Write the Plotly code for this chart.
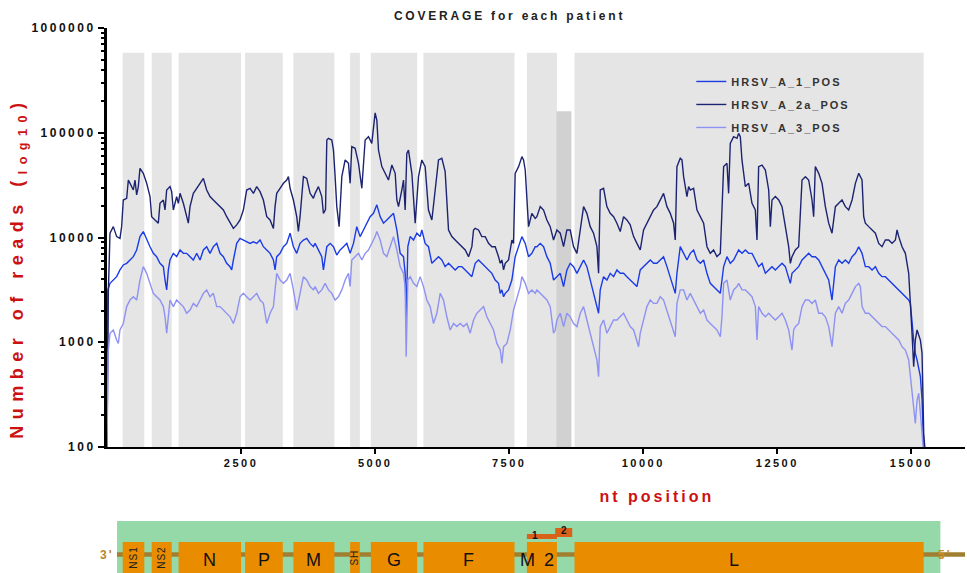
import plotly.graph_objects as go

# ---------------- data ----------------
series_names = ["HRSV_A_1_POS", "HRSV_A_2a_POS", "HRSV_A_3_POS"]

pos_2a = [0, 25, 56, 118, 180, 242, 273, 304, 367, 398,
          429, 491, 522, 553, 584, 615, 677, 740, 802, 833,
          895, 957, 988, 1051, 1082, 1113, 1175, 1206, 1237, 1299,
          1330, 1362, 1424, 1486, 1517, 1548, 1610, 1673, 1735, 1797,
          1859, 1921, 1983, 2046, 2108, 2170, 2232, 2294, 2357, 2419,
          2481, 2543, 2605, 2668, 2730, 2792, 2854, 2916, 2979, 3041,
          3103, 3134, 3165, 3227, 3290, 3352, 3383, 3414, 3476, 3538,
          3569, 3600, 3663, 3725, 3787, 3849, 3881, 3943, 4005, 4036,
          4075, 4099, 4130, 4192, 4223, 4254, 4285, 4329, 4379, 4441,
          4503, 4534, 4565, 4627, 4690, 4752, 4783, 4814, 4876, 4938,
          5000, 5032, 5063, 5125, 5187, 5249, 5312, 5374, 5405, 5436,
          5498, 5529, 5560, 5591, 5622, 5685, 5747, 5809, 5871, 5933,
          5995, 6058, 6120, 6182, 6244, 6306, 6369, 6431, 6493, 6555,
          6617, 6680, 6742, 6804, 6835, 6866, 6928, 6990, 7053, 7115,
          7177, 7239, 7301, 7333, 7364, 7395, 7426, 7488, 7550, 7581,
          7612, 7675, 7737, 7768, 7799, 7861, 7923, 7985, 8016, 8079,
          8141, 8203, 8265, 8327, 8390, 8452, 8514, 8576, 8638, 8700,
          8763, 8825, 8887, 8949, 9011, 9073, 9136, 9167, 9198, 9260,
          9322, 9384, 9447, 9509, 9571, 9633, 9695, 9757, 9820, 9882,
          9944, 10006, 10068, 10131, 10193, 10255, 10317, 10379, 10442, 10504,
          10566, 10597, 10628, 10690, 10722, 10753, 10815, 10846, 10877, 10939,
          11002, 11064, 11126, 11188, 11250, 11312, 11374, 11437, 11468, 11499,
          11561, 11592, 11623, 11685, 11748, 11779, 11810, 11841, 11904, 11966,
          12028, 12090, 12121, 12152, 12215, 12277, 12339, 12370, 12401, 12463,
          12526, 12588, 12650, 12712, 12743, 12774, 12836, 12898, 12961, 13023,
          13085, 13147, 13178, 13209, 13272, 13334, 13396, 13458, 13520, 13583,
          13645, 13707, 13769, 13831, 13894, 13956, 14018, 14080, 14111, 14142,
          14204, 14267, 14329, 14391, 14453, 14515, 14577, 14640, 14702, 14733,
          14764, 14826, 14888, 14950, 14981, 15012, 15043, 15074, 15106, 15168,
          15199, 15230, 15250]
reads_2a = [100, 3000, 11000, 12700, 10200, 9800, 12700, 22800, 23700, 35400,
            32900, 28400, 35400, 25500, 30600, 45800, 41000, 32900, 24600, 15800,
            14700, 13700, 21200, 22800, 18300, 28400, 30600, 27400, 18300, 24600,
            21200, 26400, 21200, 16400, 13700, 19700, 26400, 29500, 32900, 36700,
            28400, 24600, 22800, 21200, 19700, 18300, 15800, 13700, 12200, 13200,
            14700, 18300, 28400, 29500, 26400, 30600, 27400, 22800, 15800, 14700,
            12200, 19700, 26400, 29500, 32900, 35400, 38100, 29500, 22800, 15800,
            11400, 15800, 38100, 36700, 26400, 23700, 26400, 30600, 24600, 17000,
            18500, 85200, 88500, 85200, 68400, 38100, 19700, 12700, 38100, 55000,
            51100, 32900, 73600, 71000, 51100, 29500, 55000, 85200, 91800, 79200,
            155000, 132000, 68400, 47500, 41000, 35400, 49200, 41000, 22800, 19700,
            28400, 35400, 18300, 63600, 68400, 41000, 13700, 38100, 55000, 47500,
            18300, 14700, 28400, 55000, 57000, 42500, 11800, 10200, 9460, 8790,
            8170, 7600, 6560, 8170, 11800, 12200, 11800, 10200, 10200, 8790,
            8170, 8170, 6560, 5670, 6100, 4900, 5670, 6100, 9460, 8790,
            41000, 47500, 59100, 55000, 44100, 12700, 17000, 15200, 15800, 19700,
            18300, 14700, 12700, 9460, 11800, 11000, 8170, 11800, 11800, 8170,
            7060, 11800, 19700, 17000, 12700, 11000, 8170, 4550, 28400, 29500,
            19700, 17000, 15800, 13700, 11400, 15800, 14700, 13200, 10200, 8790,
            7600, 11800, 13700, 15800, 18300, 19700, 22800, 26400, 19700, 17000,
            13700, 9460, 47500, 57000, 55000, 38100, 24600, 30600, 28400, 29500,
            18300, 15800, 13700, 8170, 7060, 7600, 6560, 7060, 22800, 47500,
            51100, 26400, 79200, 91800, 88500, 98700, 91800, 55000, 30600, 32900,
            21200, 18300, 9460, 47500, 49200, 44100, 28400, 12700, 22800, 24600,
            22800, 19700, 12700, 8170, 5670, 6560, 7600, 8170, 35400, 38100,
            35400, 22800, 15800, 47500, 41000, 32900, 19700, 13700, 11000, 19700,
            21200, 22800, 19700, 18300, 22800, 32900, 41000, 35400, 15800, 13700,
            12700, 11800, 11000, 8790, 8170, 9460, 9460, 8790, 9460, 11800,
            10200, 8170, 7060, 4550, 2530, 1220, 585, 1050, 1310, 1050,
            783, 135, 100]

pos_1 = [0, 15, 56, 118, 180, 242, 304, 367, 429, 491,
         553, 615, 677, 740, 802, 864, 926, 988, 1051, 1082,
         1113, 1144, 1175, 1237, 1299, 1362, 1424, 1486, 1548, 1610,
         1673, 1735, 1797, 1859, 1921, 1983, 2046, 2108, 2170, 2232,
         2294, 2325, 2357, 2419, 2481, 2543, 2605, 2668, 2730, 2792,
         2854, 2916, 2979, 3041, 3103, 3134, 3165, 3227, 3290, 3352,
         3414, 3476, 3538, 3600, 3663, 3725, 3787, 3849, 3881, 3943,
         4005, 4036, 4099, 4161, 4223, 4285, 4348, 4410, 4472, 4534,
         4596, 4658, 4720, 4783, 4845, 4907, 4969, 5032, 5094, 5156,
         5218, 5280, 5343, 5405, 5467, 5529, 5560, 5579, 5610, 5653,
         5716, 5778, 5840, 5871, 5933, 5995, 6058, 6120, 6182, 6244,
         6306, 6369, 6431, 6493, 6555, 6617, 6680, 6742, 6804, 6866,
         6928, 6990, 7053, 7115, 7177, 7239, 7301, 7333, 7364, 7395,
         7426, 7488, 7550, 7612, 7675, 7737, 7799, 7861, 7923, 7985,
         8016, 8079, 8141, 8203, 8265, 8327, 8390, 8452, 8514, 8576,
         8638, 8700, 8763, 8825, 8887, 8949, 9011, 9073, 9136, 9167,
         9198, 9260, 9322, 9384, 9447, 9509, 9571, 9633, 9695, 9757,
         9820, 9882, 9944, 10006, 10068, 10131, 10193, 10255, 10317, 10379,
         10442, 10504, 10566, 10597, 10628, 10690, 10753, 10815, 10877, 10939,
         11002, 11064, 11126, 11188, 11250, 11312, 11374, 11437, 11468, 11499,
         11561, 11623, 11685, 11748, 11779, 11841, 11904, 11966, 12028, 12090,
         12152, 12215, 12277, 12339, 12401, 12463, 12526, 12588, 12650, 12712,
         12743, 12774, 12836, 12898, 12961, 13023, 13085, 13147, 13209, 13272,
         13334, 13396, 13458, 13520, 13551, 13583, 13645, 13707, 13769, 13831,
         13894, 13956, 14018, 14080, 14142, 14204, 14267, 14329, 14391, 14453,
         14515, 14577, 14640, 14702, 14764, 14826, 14888, 14950, 14981, 15012,
         15043, 15074, 15106, 15168, 15199, 15230]
reads_1 = [100, 3160, 3650, 3930, 4230, 4900, 5470, 5670, 6100, 6560,
           7600, 10200, 11400, 9460, 8170, 7060, 6560, 5670, 5270, 3930,
           3160, 4900, 6100, 7060, 6560, 7600, 7060, 7060, 6560, 6100,
           7060, 6100, 7600, 8170, 7060, 8170, 8790, 7060, 6560, 5670,
           5270, 4900, 6100, 8790, 9800, 9460, 9100, 8790, 9100, 8790,
           9460, 8170, 7600, 7060, 6100, 4900, 6560, 7060, 8170, 8790,
           11000, 8170, 7060, 8790, 9460, 9800, 8790, 8170, 8790, 7600,
           6560, 4900, 8170, 8790, 8170, 6800, 7600, 8170, 8790, 7060,
           8790, 12700, 10200, 11800, 13700, 15800, 17000, 20500, 15800, 13700,
           14700, 15800, 17000, 11800, 7060, 6560, 4550, 1630, 8170, 10200,
           9460, 11000, 10200, 11800, 8790, 8170, 5670, 6100, 6560, 6100,
           5270, 5670, 5270, 4900, 5270, 5270, 4900, 4550, 4230, 5670,
           6100, 5670, 5270, 4900, 4550, 3930, 3650, 2930, 3160, 2720,
           2930, 3160, 3930, 6560, 8170, 10200, 8790, 6560, 7060, 8170,
           8170, 8790, 8170, 6560, 5670, 3930, 4230, 4550, 3400, 4900,
           5670, 5270, 4550, 5270, 6100, 5270, 3930, 2930, 2190, 1890,
           3160, 4230, 3930, 4550, 4230, 4900, 4550, 4550, 4230, 3930,
           3650, 3400, 4900, 5270, 5670, 6100, 5670, 5670, 6100, 6560,
           5270, 4230, 3400, 2930, 4550, 8170, 7060, 6100, 7060, 7600,
           6100, 5670, 6100, 4550, 3650, 3400, 3160, 2930, 3930, 5270,
           6560, 5670, 6100, 7060, 7600, 7060, 7600, 7060, 7060, 6100,
           5270, 5670, 4550, 4900, 5270, 4900, 5270, 5670, 5270, 4230,
           3650, 4550, 4900, 5270, 6100, 6560, 7060, 6560, 6560, 6100,
           5270, 4550, 3930, 2530, 3400, 5270, 6100, 5670, 6100, 5670,
           6560, 7060, 8170, 7060, 5270, 5270, 4900, 5270, 4550, 4230,
           4230, 3930, 3650, 3400, 3160, 2930, 2720, 2530, 2350, 1410,
           1050, 783, 677, 469, 281, 100]

pos_3 = [0, 20, 56, 118, 180, 211, 242, 304, 367, 429,
         491, 553, 615, 677, 740, 802, 864, 926, 988, 1051,
         1082, 1113, 1144, 1175, 1237, 1299, 1362, 1424, 1486, 1548,
         1610, 1673, 1735, 1797, 1859, 1921, 1983, 2046, 2108, 2170,
         2232, 2294, 2357, 2419, 2481, 2543, 2605, 2668, 2730, 2792,
         2854, 2916, 2979, 3041, 3103, 3134, 3165, 3227, 3290, 3352,
         3414, 3476, 3538, 3600, 3663, 3725, 3787, 3849, 3881, 3943,
         4005, 4067, 4130, 4192, 4254, 4316, 4379, 4441, 4503, 4534,
         4565, 4627, 4690, 4752, 4814, 4876, 4938, 5000, 5032, 5094,
         5156, 5218, 5280, 5343, 5405, 5467, 5529, 5560, 5579, 5610,
         5653, 5716, 5778, 5840, 5902, 5964, 6026, 6089, 6151, 6213,
         6275, 6337, 6400, 6462, 6524, 6586, 6649, 6711, 6773, 6835,
         6897, 6959, 7022, 7084, 7146, 7208, 7270, 7333, 7364, 7395,
         7457, 7519, 7581, 7644, 7706, 7737, 7799, 7861, 7923, 7985,
         8016, 8079, 8141, 8203, 8265, 8327, 8358, 8390, 8452, 8514,
         8576, 8638, 8700, 8763, 8825, 8887, 8949, 9011, 9073, 9136,
         9167, 9198, 9260, 9322, 9384, 9447, 9509, 9571, 9633, 9695,
         9757, 9820, 9882, 9913, 9944, 10006, 10068, 10131, 10193, 10255,
         10317, 10379, 10442, 10504, 10566, 10597, 10628, 10690, 10753, 10815,
         10877, 10939, 11002, 11064, 11126, 11188, 11250, 11312, 11374, 11437,
         11468, 11499, 11561, 11623, 11685, 11748, 11779, 11841, 11904, 11966,
         12028, 12090, 12121, 12152, 12215, 12277, 12339, 12401, 12463, 12526,
         12588, 12650, 12712, 12774, 12805, 12836, 12898, 12961, 13023, 13085,
         13147, 13209, 13272, 13334, 13396, 13458, 13520, 13551, 13583, 13645,
         13707, 13769, 13831, 13894, 13956, 14018, 14049, 14080, 14142, 14204,
         14267, 14329, 14391, 14453, 14515, 14577, 14640, 14702, 14764, 14826,
         14888, 14950, 14981, 15012, 15043, 15074, 15106, 15137, 15168, 15199,
         15220]
reads_3 = [100, 800, 1220, 1310, 1050, 975, 1310, 1510, 2190, 2530,
           2720, 2530, 3930, 5270, 4550, 3650, 2930, 2720, 2530, 2190,
           1750, 1220, 1890, 2530, 2190, 2530, 2350, 2190, 1890, 2030,
           2350, 2190, 2530, 2930, 3160, 2720, 2930, 2190, 2190, 2030,
           1890, 1750, 1510, 1890, 2720, 2930, 2720, 2530, 2720, 2930,
           2530, 2350, 1510, 1890, 2190, 3400, 4550, 3930, 3650, 3930,
           4550, 3160, 2030, 2930, 4230, 3930, 3400, 3160, 3400, 2930,
           3160, 3650, 3160, 2930, 2530, 2720, 3160, 3930, 4550, 3400,
           6100, 6560, 7060, 6100, 7060, 7600, 8790, 10200, 11400, 9460,
           7060, 6560, 8170, 10200, 7600, 5270, 4550, 3400, 728, 3930,
           4230, 3650, 3400, 4230, 3400, 2530, 2190, 1510, 1890, 2930,
           2530, 1750, 1310, 1510, 1410, 1510, 1410, 1510, 1220, 1630,
           1890, 2030, 2190, 1750, 1510, 1310, 975, 843, 629, 907,
           975, 1310, 2030, 2720, 3400, 4230, 3650, 2930, 3160, 2930,
           3160, 2930, 2720, 2530, 2190, 1220, 1310, 1630, 1890, 1410,
           1890, 1750, 1510, 1410, 1890, 2190, 1630, 1220, 907, 677,
           469, 1410, 1630, 1220, 1410, 1630, 1630, 1750, 1890, 1630,
           1410, 1310, 1050, 907, 1220, 1630, 2190, 2530, 2350, 2350,
           2720, 2530, 2030, 1630, 1310, 1130, 2350, 3160, 3160, 2530,
           2930, 2530, 2190, 1890, 2030, 1630, 1510, 1410, 1310, 1130,
           1750, 3650, 3930, 2530, 3160, 3400, 3650, 3160, 3160, 2930,
           2720, 2190, 1050, 2190, 1890, 1750, 1890, 1750, 1630, 1750,
           1890, 1630, 1310, 843, 1310, 1410, 1510, 2190, 2530, 2530,
           2350, 2530, 1890, 1890, 1750, 1410, 907, 1310, 1890, 2190,
           1890, 2350, 2530, 2930, 3400, 3650, 3400, 2190, 1890, 1890,
           1750, 1630, 1510, 1410, 1410, 1310, 1220, 1130, 1050, 907,
           843, 677, 469, 377, 243, 168, 281, 325, 210, 145,
           100]

# genes (nt coordinates) shown as grey bands and as boxes in the genome map
gene_names = ["NS1", "NS2", "N", "P", "M", "SH", "G", "F", "M2", "L"]
gene_start = [293, 834, 1335, 2575, 3476, 4534, 4920, 5901, 7830, 8718]
gene_end = [696, 1207, 2500, 3278, 4241, 4715, 5784, 7599, 8390, 15229]
band_top = 580000
overlap_start, overlap_end, overlap_top = 8380, 8660, 160000   # M2-2 region
m2_orf_names = ["1", "2"]
m2_orf_start = [7830, 8358]
m2_orf_end = [8390, 8675]
genome_start, genome_end = 187, 15541

x_tick_vals = [2500, 5000, 7500, 10000, 12500, 15000]
x_tick_text = ["2500", "5000", "7500", "10000", "12500", "15000"]
y_tick_vals = [100, 1000, 10000, 100000, 1000000]
y_tick_text = ["100", "1000", "10000", "100000", "1000000"]

# ---------------- figure ----------------
FONT = "Liberation Sans, Arial, sans-serif"
colors = {"HRSV_A_1_POS": "#1b3be6", "HRSV_A_2a_POS": "#1c2472", "HRSV_A_3_POS": "#8e92f2"}

fig = go.Figure()
for name, xs, ys in [(series_names[0], pos_1, reads_1),
                     (series_names[1], pos_2a, reads_2a),
                     (series_names[2], pos_3, reads_3)]:
    fig.add_trace(go.Scatter(x=xs, y=ys, mode="lines", name=name, legendgroup=name,
                             line=dict(color=colors[name], width=1.4)))

shapes = []
for s, e in zip(gene_start, gene_end):
    shapes.append(dict(type="rect", xref="x", yref="y", x0=s, x1=e, y0=100, y1=band_top,
                       fillcolor="#e5e5e5", line=dict(width=0), layer="below"))
shapes.append(dict(type="rect", xref="x", yref="y", x0=overlap_start, x1=overlap_end,
                   y0=100, y1=overlap_top, fillcolor="#d1d1d1", line=dict(width=0), layer="below"))

# genome map below the chart (paper y coordinates)
MAP_TOP, MAP_BOT = -0.1766, -0.40
BOX_TOP = -0.2267
LINE_Y = -0.2566
shapes.append(dict(type="rect", xref="x", yref="paper", x0=genome_start, x1=genome_end,
                   y0=MAP_BOT, y1=MAP_TOP, fillcolor="#95d9a9", line=dict(width=0)))
shapes.append(dict(type="line", xref="x", yref="paper", x0=genome_start, x1=16000,
                   y0=LINE_Y, y1=LINE_Y, line=dict(color="#a08030", width=4.5)))
for s, e in zip(gene_start, gene_end):
    shapes.append(dict(type="rect", xref="x", yref="paper", x0=s, x1=e, y0=MAP_BOT, y1=BOX_TOP,
                       fillcolor="#e98c00", line=dict(width=0)))
orf_y = [(-0.2196, -0.2076), (-0.2148, -0.1933)]
for (s, e), (y0, y1) in zip(zip(m2_orf_start, m2_orf_end), orf_y):
    shapes.append(dict(type="rect", xref="x", yref="paper", x0=s, x1=e, y0=y0, y1=y1,
                       fillcolor="#d9621a", line=dict(width=0)))

annotations = []
LABEL_Y = -0.2697
C = dict(xanchor="center", yanchor="middle", showarrow=False)
for name, s, e in zip(gene_names, gene_start, gene_end):
    cx = (s + e) / 2
    if name == "L":
        cx = 11700
    if name in ("NS1", "NS2", "SH"):
        annotations.append(dict(x=cx, y=-0.264, xref="x", yref="paper", text=name,
                                textangle=-90, font=dict(family=FONT, size=10, color="#222"), **C))
    else:
        annotations.append(dict(x=cx, y=LABEL_Y, xref="x", yref="paper", text=name,
                                font=dict(family=FONT, size=18, color="#111"), **C))
annotations.append(dict(x=7990, y=-0.212, xref="x", yref="paper", text=m2_orf_names[0],
                        font=dict(family=FONT, size=10, color="#111", weight="bold"), **C))
annotations.append(dict(x=8520, y=-0.200, xref="x", yref="paper", text=m2_orf_names[1],
                        font=dict(family=FONT, size=10, color="#111", weight="bold"), **C))
annotations.append(dict(x=0.0, y=LINE_Y, xref="paper", yref="paper", text="3'",
                        font=dict(family=FONT, size=12, color="#b8862e", weight="bold"), **C))
annotations.append(dict(x=0.977, y=LINE_Y, xref="paper", yref="paper", text="5'",
                        font=dict(family=FONT, size=12, color="#d08a20", weight="bold"), **C))
annotations.append(dict(x=0.641, y=-0.119, xref="paper", yref="paper", text="nt position",
                        font=dict(family=FONT, size=16, color="#cc1111", weight="bold"), **C))
annotations.append(dict(x=-0.1037, y=0.427, xref="paper", yref="paper",
                        text="Number of reads (<sub>log10</sub>)", textangle=-90,
                        font=dict(family=FONT, size=18, color="#cc1111", weight="bold"), **C))

minor_vals = [m * 10 ** k for k in range(2, 6) for m in range(2, 10)]

fig.update_layout(
    width=967, height=573,
    margin=dict(l=107, r=2, t=28, b=126),
    paper_bgcolor="white", plot_bgcolor="white",
    title=dict(text="COVERAGE for each patient", x=0.527, xanchor="center", y=0.972, yanchor="middle",
               font=dict(family=FONT, size=12, color="#222", weight="bold")),
    showlegend=True,
    legend=dict(x=0.681, y=0.907, xanchor="left", yanchor="top", bgcolor="rgba(0,0,0,0)",
                traceorder="grouped", tracegroupgap=4,
                font=dict(family=FONT, size=11, color="#333", weight="bold")),
    xaxis=dict(range=[0, 16000], tickvals=x_tick_vals, ticktext=x_tick_text,
               ticks="outside", ticklen=5, tickwidth=2, tickcolor="black",
               showline=True, linecolor="black", linewidth=2, showgrid=False, zeroline=False,
               tickfont=dict(family=FONT, size=11, color="#111", weight="bold")),
    yaxis=dict(type="log", range=[2, 6], tickvals=y_tick_vals, ticktext=y_tick_text,
               ticks="outside", ticklen=6, tickwidth=2, tickcolor="black",
               showline=True, linecolor="black", linewidth=3, showgrid=False, zeroline=False,
               tickfont=dict(family=FONT, size=12, color="#111", weight="bold"),
               minor=dict(tickvals=minor_vals, ticks="outside", ticklen=3, tickwidth=1.5,
                          tickcolor="black", showgrid=False)),
    shapes=shapes,
    annotations=annotations,
)

post = """
document.body.style.margin = '0';
document.body.style.overflow = 'hidden';
var gd = document.getElementById('{plot_id}');
function spacing(){
  gd.querySelectorAll('text').forEach(function(t){
    var s = (t.textContent || '').trim();
    var v = '2px';
    if (s.indexOf('Number') === 0) v = '6.5px';
    else if (s === 'nt position') v = '3px';
    else if (s.indexOf('COVERAGE') === 0) v = '2.8px';
    else if (s.indexOf('HRSV') === 0) v = '2px';
    else if (s === 'M2') v = '9px';
    else if (s === 'NS1' || s === 'NS2' || s === 'SH') v = '1px';
    else if (['N','P','M','G','F','L','1','2'].indexOf(s) >= 0) v = '0px';
    else if (/^[0-9]+$/.test(s)) v = '2.5px';
    t.style.letterSpacing = v;
  });
  gd.querySelectorAll('.legend [clip-path]').forEach(function(e){ e.removeAttribute('clip-path'); });
}
spacing();
gd.on('plotly_afterplot', spacing);
"""

fig.write_html("out.html", config={"displayModeBar": False}, post_script=post)
